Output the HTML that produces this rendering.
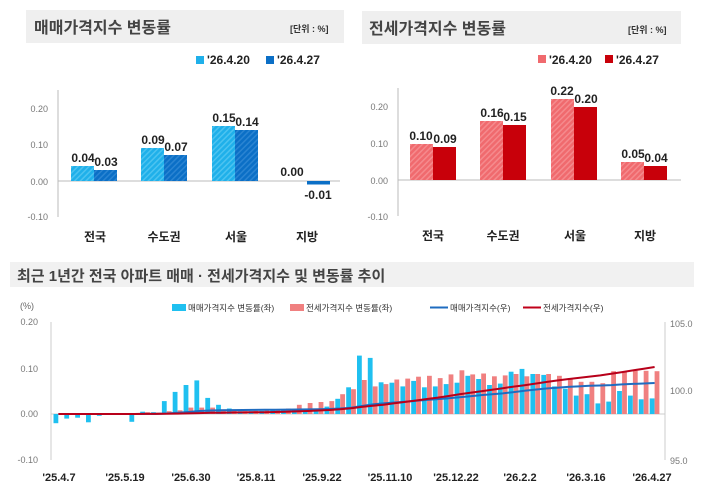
<!DOCTYPE html>
<html><head><meta charset="utf-8"><style>
body{margin:0;background:#fff;}
svg{display:block;font-family:"Liberation Sans","Noto Sans CJK KR",sans-serif;}
</style></head><body>
<svg id="s" width="711" height="501" viewBox="0 0 711 501" xmlns="http://www.w3.org/2000/svg">
<defs>
<pattern id="hb" width="4" height="4" patternUnits="userSpaceOnUse" patternTransform="rotate(45)"><rect width="4" height="4" fill="#1fb0ea"/><rect width="1.5" height="4" fill="#4cc3f0"/></pattern>
<pattern id="hd" width="4" height="4" patternUnits="userSpaceOnUse" patternTransform="rotate(45)"><rect width="4" height="4" fill="#0b6fc6"/><rect width="1.5" height="4" fill="#2a84d2"/></pattern>
<pattern id="hp" width="4" height="4" patternUnits="userSpaceOnUse" patternTransform="rotate(45)"><rect width="4" height="4" fill="#f06a6e"/><rect width="1.5" height="4" fill="#f58a8d"/></pattern>
</defs>
<rect x="26" y="10" width="318" height="33" fill="#efefef"/>
<text x="34" y="33" font-size="16" font-weight="bold" fill="#444">매매가격지수 변동률</text>
<text x="290" y="32" font-size="9" font-weight="bold" fill="#333">[단위 : %]</text>
<rect x="196" y="56" width="8" height="8" fill="#1fb0ea"/><text x="207" y="64" font-size="12" font-weight="bold" fill="#222">'26.4.20</text>
<rect x="266" y="56" width="8" height="8" fill="#0b6fc6"/><text x="277" y="64" font-size="12" font-weight="bold" fill="#222">'26.4.27</text>
<g font-size="9" fill="#777" text-anchor="end">
<text x="48" y="112">0.20</text><text x="48" y="148">0.10</text><text x="48" y="185">0.00</text><text x="48" y="220">-0.10</text></g>
<line x1="58" y1="90" x2="58" y2="217" stroke="#bbb"/>
<line x1="58" y1="181" x2="340" y2="181" stroke="#bbb"/>
<rect x="71" y="166" width="23" height="15" fill="url(#hb)"/><rect x="94" y="170" width="23" height="11" fill="url(#hd)"/>
<rect x="141" y="148" width="23" height="33" fill="url(#hb)"/><rect x="164" y="155" width="23" height="26" fill="url(#hd)"/>
<rect x="212" y="126" width="23" height="55" fill="url(#hb)"/><rect x="235" y="130" width="23" height="51" fill="url(#hd)"/>
<rect x="307" y="181" width="23" height="3.5" fill="#0b6fc6"/>
<g font-size="12" font-weight="bold" fill="#222" text-anchor="middle">
<text x="83" y="162">0.04</text><text x="106" y="166">0.03</text>
<text x="153" y="144">0.09</text><text x="176" y="151">0.07</text>
<text x="224" y="122">0.15</text><text x="247" y="126">0.14</text>
<text x="292" y="176">0.00</text><text x="318" y="199">-0.01</text>
<text x="95" y="241">전국</text><text x="164" y="241">수도권</text><text x="236" y="241">서울</text><text x="307" y="241">지방</text></g>
<rect x="362" y="11" width="319" height="33" fill="#efefef"/>
<text x="369" y="34" font-size="16" font-weight="bold" fill="#444">전세가격지수 변동률</text>
<text x="628" y="33" font-size="9" font-weight="bold" fill="#333">[단위 : %]</text>
<rect x="538" y="55" width="8" height="8" fill="#f06a6e"/><text x="549" y="64" font-size="12" font-weight="bold" fill="#222">'26.4.20</text>
<rect x="605" y="55" width="8" height="8" fill="#c8000a"/><text x="616" y="64" font-size="12" font-weight="bold" fill="#222">'26.4.27</text>
<g font-size="9" fill="#777" text-anchor="end">
<text x="388" y="110">0.20</text><text x="388" y="147">0.10</text><text x="388" y="184">0.00</text><text x="388" y="220">-0.10</text></g>
<line x1="398" y1="88" x2="398" y2="216" stroke="#bbb"/>
<line x1="398" y1="180" x2="681" y2="180" stroke="#bbb"/>
<rect x="410" y="144" width="23" height="36" fill="url(#hp)"/><rect x="433" y="147" width="23" height="33" fill="#c8000a"/>
<rect x="480" y="121" width="23" height="59" fill="url(#hp)"/><rect x="503" y="125" width="23" height="55" fill="#c8000a"/>
<rect x="551" y="99" width="23" height="81" fill="url(#hp)"/><rect x="574" y="107" width="23" height="73" fill="#c8000a"/>
<rect x="621" y="162" width="23" height="18" fill="url(#hp)"/><rect x="644" y="166" width="23" height="14" fill="#c8000a"/>
<g font-size="12" font-weight="bold" fill="#222" text-anchor="middle">
<text x="421" y="140">0.10</text><text x="445" y="143">0.09</text>
<text x="492" y="117">0.16</text><text x="515" y="121">0.15</text>
<text x="562" y="95">0.22</text><text x="586" y="103">0.20</text>
<text x="633" y="158">0.05</text><text x="656" y="162">0.04</text>
<text x="433" y="240">전국</text><text x="503" y="240">수도권</text><text x="575" y="240">서울</text><text x="645" y="240">지방</text></g>
<rect x="10" y="262" width="684" height="25" fill="#f1f1f1"/>
<text x="17" y="281" font-size="15" font-weight="bold" fill="#444">최근 1년간 전국 아파트 매매 · 전세가격지수 및 변동률 추이</text>
<text x="20" y="309" font-size="9" fill="#666">(%)</text>
<g font-size="8.5" fill="#333">
<rect x="172" y="304" width="14" height="7" fill="#1fc0f0"/><text x="188" y="311">매매가격지수  변동률(좌)</text>
<rect x="290" y="304" width="14" height="7" fill="#f08080"/><text x="306" y="311">전세가격지수  변동률(좌)</text>
<line x1="430" y1="307.5" x2="448" y2="307.5" stroke="#1f6cc0" stroke-width="2"/><text x="450" y="311">매매가격지수(우)</text>
<line x1="523" y1="307.5" x2="541" y2="307.5" stroke="#c0001a" stroke-width="2"/><text x="543" y="311">전세가격지수(우)</text></g>
<g font-size="9" fill="#777" text-anchor="end">
<text x="38" y="325">0.20</text><text x="38" y="372">0.10</text><text x="38" y="417">0.00</text><text x="38" y="463">-0.10</text></g>
<g font-size="9" fill="#777">
<text x="670" y="327">105.0</text><text x="670" y="394">100.0</text><text x="670" y="464">95.0</text></g>
<line x1="51" y1="322" x2="51" y2="460" stroke="#ccc"/>
<line x1="665" y1="322" x2="665" y2="460" stroke="#ccc"/>
<line x1="51" y1="414" x2="665" y2="414" stroke="#ccc"/>
<g id="bars"></g>
<g font-size="11" font-weight="bold" fill="#222" text-anchor="middle">
<text x="59" y="481">'25.4.7</text><text x="125" y="481">'25.5.19</text><text x="191" y="481">'25.6.30</text>
<text x="256" y="481">'25.8.11</text><text x="322" y="481">'25.9.22</text><text x="390" y="481">'25.11.10</text>
<text x="456" y="481">'25.12.22</text><text x="520" y="481">'26.2.2</text><text x="586" y="481">'26.3.16</text><text x="652" y="481">'26.4.27</text></g>
</svg>
<script>
var B=[-0.02,-0.01,-0.008,-0.018,-0.004,-0.002,-0.001,-0.017,0.005,0.004,0.028,0.048,0.063,0.073,0.035,0.02,0.012,0.006,0.006,0.007,0.008,0.008,0.009,0.01,0.012,0.016,0.033,0.058,0.127,0.122,0.069,0.068,0.06,0.072,0.058,0.06,0.065,0.068,0.083,0.076,0.063,0.066,0.092,0.098,0.087,0.085,0.06,0.055,0.04,0.043,0.023,0.027,0.05,0.04,0.032,0.034];
var P=[0,0,0,0,0,0.001,0,0,0.004,0.003,0.006,0.008,0.014,0.014,0.014,0.01,0.007,0.006,0.007,0.008,0.01,0.012,0.02,0.024,0.026,0.028,0.043,0.054,0.074,0.06,0.065,0.075,0.077,0.081,0.083,0.078,0.086,0.095,0.086,0.088,0.082,0.084,0.087,0.082,0.087,0.087,0.083,0.078,0.07,0.07,0.067,0.093,0.092,0.094,0.094,0.093];
var g=document.getElementById('bars'),h='';
var n=B.length,x0=53,step=(660-x0)/n,k=460;
function y(v){return 414-v*k;}
for(var i=0;i<n;i++){var x=x0+i*step;
var v=B[i];h+='<rect x="'+(x+0.5).toFixed(1)+'" y="'+Math.min(y(v),414).toFixed(1)+'" width="'+(step/2-0.6).toFixed(1)+'" height="'+Math.abs(v*k).toFixed(1)+'" fill="#1fc0f0"/>';
v=P[i];h+='<rect x="'+(x+step/2).toFixed(1)+'" y="'+Math.min(y(v),414).toFixed(1)+'" width="'+(step/2-0.6).toFixed(1)+'" height="'+Math.abs(v*k).toFixed(1)+'" fill="#f08080"/>';}
var sB=0,sP=0;for(var i=0;i<n;i++){sB+=Math.max(B[i],0);sP+=P[i];}
var kb=31/sB,kp=47/sP,a=0,b=0,ps='',pj='';
for(var i=0;i<n;i++){var x=x0+(i+0.5)*step;a+=Math.max(B[i],0);b+=P[i];
ps+=(i?'L':'M')+x.toFixed(1)+','+(414-a*kb).toFixed(1);
pj+=(i?'L':'M')+x.toFixed(1)+','+(414-b*kp).toFixed(1);}
h+='<path d="'+ps+'" fill="none" stroke="#1f6cc0" stroke-width="2"/>';
h+='<path d="'+pj+'" fill="none" stroke="#b8001a" stroke-width="2"/>';
g.innerHTML=h;
</script>
</body></html>
